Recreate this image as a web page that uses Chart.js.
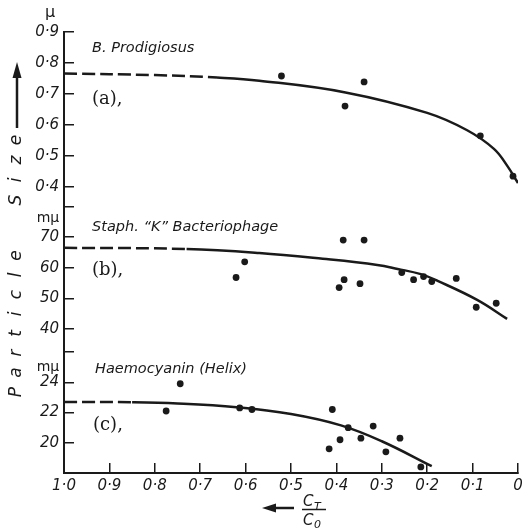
<!DOCTYPE html>
<html>
<head>
<meta charset="utf-8">
<script src="https://cdn.jsdelivr.net/npm/chart.js@4.4.1/dist/chart.umd.min.js"></script>
<style>
  html, body { margin: 0; padding: 0; background: #fff; }
</style>
</head>
<body>
<canvas id="chart" width="522" height="528"></canvas>
<script>
// x axis: C_T / C_0, drawn from 1.0 (left) down to 0 (right)
const xTicks = [1.0, 0.9, 0.8, 0.7, 0.6, 0.5, 0.4, 0.3, 0.2, 0.1, 0.0];

// (a) B. Prodigiosus, size in μ
const ticksA = [0.4, 0.5, 0.6, 0.7, 0.8, 0.9];
const curveAX = [1.0, 0.8, 0.663, 0.57, 0.38, 0.2, 0.112, 0.053, 0.024, 0.0];
const curveAY = [0.766, 0.761, 0.753, 0.743, 0.705, 0.639, 0.583, 0.523, 0.469, 0.413];
const dotsAX = [0.521, 0.339, 0.381, 0.083, 0.011];
const dotsAY = [0.758, 0.739, 0.661, 0.565, 0.435];

// (b) Staph. "K" Bacteriophage, size in mμ
const ticksB = [40, 50, 60, 70];
const curveBX = [1.0, 0.73, 0.57, 0.43, 0.31, 0.265, 0.214, 0.177, 0.09, 0.024];
const curveBY = [66.5, 66.1, 64.8, 62.9, 60.9, 59.6, 57.9, 55.7, 49.5, 43.3];
const dotsBX = [0.621, 0.602, 0.385, 0.339, 0.383, 0.394, 0.348, 0.256, 0.230, 0.208, 0.190, 0.136, 0.092, 0.048];
const dotsBY = [56.8, 61.9, 69.0, 69.0, 56.1, 53.5, 54.8, 58.4, 56.1, 57.1, 55.5, 56.5, 47.1, 48.4];

// (c) Haemocyanin (Helix), size in mμ
const ticksC = [18, 20, 22, 24];
const curveCX = [1.0, 0.85, 0.75, 0.62, 0.5, 0.39, 0.3, 0.19];
const curveCY = [22.7, 22.68, 22.6, 22.35, 21.9, 21.15, 20.1, 18.45];
const dotsCX = [0.775, 0.744, 0.613, 0.586, 0.409, 0.416, 0.392, 0.374, 0.346, 0.319, 0.291, 0.260, 0.214];
const dotsCY = [22.1, 23.9, 22.3, 22.2, 22.2, 19.6, 20.2, 21.0, 20.3, 21.1, 19.4, 20.3, 18.4];

// where the dashed (extrapolated) part of each curve stops
const dashEndA = 0.663;
const dashEndB = 0.73;
const dashEndC = 0.85;

const ink = '#1a1a1a';
const sans = "'DejaVu Sans', 'Liberation Sans', sans-serif";
const tickFont = { family: sans, style: 'italic', size: 15 };

function pairs(xs, ys) {
    return xs.map((x, i) => ({ x: x, y: ys[i] }));
}

function dotLabel(v) {
    return v === 0 ? '0' : v.toFixed(1).replace('.', '·');
}

function curve(xs, ys, axis, dashEnd) {
    return {
        data: pairs(xs, ys),
        yAxisID: axis,
        showLine: true,
        borderColor: ink,
        borderWidth: 2.5,
        pointRadius: 0,
        tension: 0.4,
        segment: {
            borderDash: ctx => ctx.p0.parsed.x > dashEnd + 1e-6 ? [13, 5] : undefined
        }
    };
}

function dots(xs, ys, axis) {
    return {
        data: pairs(xs, ys),
        yAxisID: axis,
        showLine: false,
        pointRadius: 3.4,
        pointBackgroundColor: ink,
        pointBorderWidth: 0
    };
}

function yScale(min, max, weight, ticks, fmt) {
    return {
        type: 'linear',
        position: 'left',
        stack: 'panels',
        stackWeight: weight,
        min: min,
        max: max,
        afterBuildTicks: s => { s.ticks = [min].concat(ticks).map(v => ({ value: v })); },
        afterFit: s => { s.width = 64; s.paddingTop = 0; s.paddingBottom = 0; },
        grid: { drawOnChartArea: false, tickLength: -10, color: ink, lineWidth: 1.5 },
        border: { color: ink, width: 2 },
        ticks: {
            padding: 15,
            autoSkip: false,
            color: ink,
            font: tickFont,
            callback: v => v === min ? '' : fmt(v)
        }
    };
}

// free text: units, panel names, axis titles
const annotations = {
    id: 'annotations',
    afterDraw(chart) {
        const ctx = chart.ctx;
        ctx.save();
        ctx.fillStyle = ink;
        ctx.strokeStyle = ink;
        ctx.textAlign = 'center';
        ctx.textBaseline = 'middle';

        ctx.font = '16px ' + sans;
        ctx.fillText('μ', 50, 13);
        ctx.font = '14px ' + sans;
        ctx.fillText('mμ', 48, 218);
        ctx.fillText('mμ', 48, 367);

        ctx.textAlign = 'left';
        ctx.textBaseline = 'alphabetic';
        ctx.font = 'italic 14.5px ' + sans;
        ctx.fillText('B. Prodigiosus', 92, 52);
        ctx.fillText('Staph. “K” Bacteriophage', 92, 231);
        ctx.fillText('Haemocyanin (Helix)', 95, 373);

        ctx.font = "18px 'DejaVu Serif', serif";
        ctx.fillText('(a),', 92, 104);
        ctx.fillText('(b),', 92, 275);
        ctx.fillText('(c),', 93, 430);

        // rotated y title
        ctx.save();
        ctx.translate(17, 0);
        ctx.rotate(-Math.PI / 2);
        ctx.textAlign = 'center';
        ctx.textBaseline = 'middle';
        ctx.font = 'italic 17px ' + sans;
        'Particle'.split('').forEach((ch, i) => ctx.fillText(ch, -(392 - i * 19.5), 0));
        'Size'.split('').forEach((ch, i) => ctx.fillText(ch, -(200 - i * 20), 0));
        ctx.lineWidth = 2.5;
        ctx.beginPath();
        ctx.moveTo(-128, 0);
        ctx.lineTo(-72, 0);
        ctx.stroke();
        ctx.beginPath();
        ctx.moveTo(-62, 0);
        ctx.lineTo(-78, -4.5);
        ctx.lineTo(-78, 4.5);
        ctx.closePath();
        ctx.fill();
        ctx.restore();

        // x title: <- C_T / C_0
        ctx.lineWidth = 2.5;
        ctx.beginPath();
        ctx.moveTo(294, 508);
        ctx.lineTo(272, 508);
        ctx.stroke();
        ctx.beginPath();
        ctx.moveTo(262, 508);
        ctx.lineTo(276, 503.5);
        ctx.lineTo(276, 512.5);
        ctx.closePath();
        ctx.fill();
        ctx.lineWidth = 1.5;
        ctx.beginPath();
        ctx.moveTo(302, 509.5);
        ctx.lineTo(326, 509.5);
        ctx.stroke();
        ctx.textAlign = 'left';
        ctx.textBaseline = 'alphabetic';
        ctx.font = 'italic 15px ' + sans;
        ctx.fillText('C', 303, 506);
        ctx.fillText('C', 303, 525);
        ctx.font = 'italic 11px ' + sans;
        ctx.fillText('T', 314, 510);
        ctx.fillText('0', 314, 528);
        ctx.restore();
    }
};

new Chart(document.getElementById('chart'), {
    type: 'scatter',
    data: {
        datasets: [
            curve(curveAX, curveAY, 'yA', dashEndA),
            dots(dotsAX, dotsAY, 'yA'),
            curve(curveBX, curveBY, 'yB', dashEndB),
            dots(dotsBX, dotsBY, 'yB'),
            curve(curveCX, curveCY, 'yC', dashEndC),
            dots(dotsCX, dotsCY, 'yC')
        ]
    },
    options: {
        responsive: false,
        animation: false,
        layout: { padding: { top: 32, right: 1, bottom: 0, left: 0 } },
        plugins: { legend: { display: false }, tooltip: { enabled: false } },
        scales: {
            x: {
                type: 'linear',
                position: 'bottom',
                reverse: true,
                min: 0,
                max: 1,
                afterBuildTicks: s => { s.ticks = xTicks.map(v => ({ value: v })); },
                afterFit: s => { s.height = 55; s.paddingLeft = 0; s.paddingRight = 0; },
                grid: { drawOnChartArea: false, tickLength: -10, color: ink, lineWidth: 1.5 },
                border: { color: ink, width: 2 },
                ticks: { padding: 14, maxRotation: 0, autoSkip: false, color: ink, font: tickFont, callback: dotLabel }
            },
            // stacked left axes: first listed ends up at the bottom
            yC: yScale(18, 26, 121, ticksC, v => String(v)),
            yB: yScale(32.5, 79.8, 145, ticksB, v => String(v)),
            yA: yScale(0.3355, 0.9, 175, ticksA, dotLabel)
        }
    },
    plugins: [annotations]
});
</script>
</body>
</html>
